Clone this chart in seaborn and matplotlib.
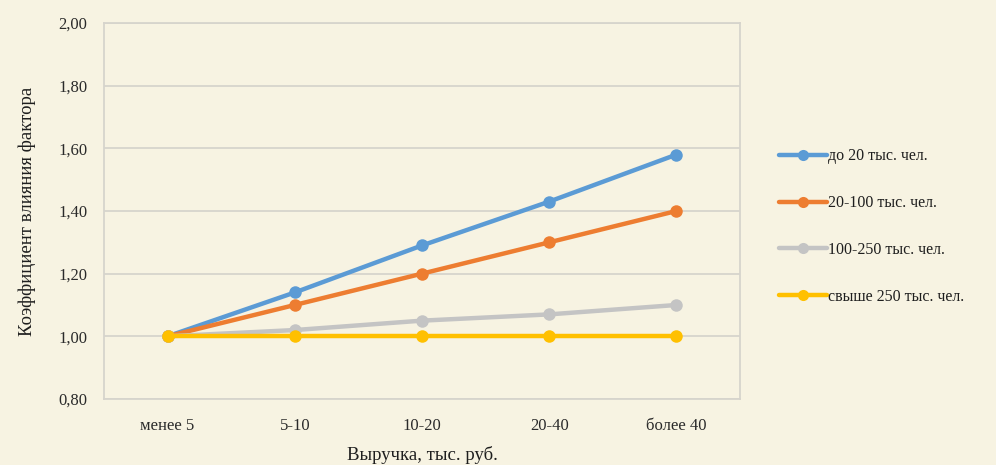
import matplotlib
matplotlib.use("Agg")
import matplotlib.pyplot as plt
import seaborn as sns
import pandas as pd
from matplotlib.lines import Line2D

categories = ["менее 5", "5-10", "10-20", "20-40", "более 40"]
series_names = ["до 20 тыс. чел.", "20-100 тыс. чел.", "100-250 тыс. чел.", "свыше 250 тыс. чел."]
vals_upto20 = [1.00, 1.14, 1.29, 1.43, 1.58]
vals_20_100 = [1.00, 1.10, 1.20, 1.30, 1.40]
vals_100_250 = [1.00, 1.02, 1.05, 1.07, 1.10]
vals_over250 = [1.00, 1.00, 1.00, 1.00, 1.00]
colors = ["#5B9BD5", "#ED7D31", "#C4C4C4", "#FFC000"]
y_ticks = [0.80, 1.00, 1.20, 1.40, 1.60, 1.80, 2.00]

rows = []
for name, vals in zip(series_names, [vals_upto20, vals_20_100, vals_100_250, vals_over250]):
    for c, v in zip(categories, vals):
        rows.append({"Выручка": c, "Коэффициент": v, "Группа": name})
df = pd.DataFrame(rows)

sns.set_style("white")
plt.rcParams["font.family"] = ["Liberation Serif", "DejaVu Serif"]

bg = "#F7F3E2"
fig = plt.figure(figsize=(9.96, 4.65), dpi=100, facecolor=bg)
ax = fig.add_axes([0.1044, 0.142, 0.6386, 0.8085])
ax.set_facecolor(bg)

sns.lineplot(data=df, x="Выручка", y="Коэффициент", hue="Группа",
             hue_order=series_names, palette=colors, marker="o",
             markersize=9, markeredgewidth=0, linewidth=3.2, sort=False,
             ax=ax, legend=False, zorder=3)

ax.set_xlim(-0.5, len(categories) - 0.5)
ax.set_ylim(0.80, 2.00)
ax.set_yticks(y_ticks)
ax.set_yticklabels([f"{t:.2f}".replace(".", ",") for t in y_ticks])
ax.set_xticks(range(len(categories)))
ax.set_xticklabels(categories)
ax.grid(axis="y", color="#D6D4CC", linewidth=1.3, zorder=0)
ax.grid(axis="x", visible=False)
for s in ax.spines.values():
    s.set_color("#D6D4CC")
    s.set_linewidth(1.3)
ax.tick_params(axis="both", length=0, labelsize=12, colors="#2a2a2a")
ax.tick_params(axis="x", pad=14)
ax.tick_params(axis="y", pad=12)
ax.set_xlabel("Выручка, тыс. руб.", fontsize=13.5, color="#1e1e1e", labelpad=8)
ax.set_ylabel("Коэффициент влияния фактора", fontsize=13.5, color="#1e1e1e", labelpad=16)

handles = [Line2D([0], [0], color=c, lw=3.2, marker="o", markersize=8, markeredgewidth=0)
           for c in colors]
fig.legend(handles, series_names, loc="upper left", bbox_to_anchor=(0.768, 0.712),
           frameon=False, fontsize=11.5, labelspacing=1.93, handlelength=3.0,
           handletextpad=0.05, labelcolor="#1e1e1e")

fig.savefig("out.png", dpi=100, facecolor=bg)
